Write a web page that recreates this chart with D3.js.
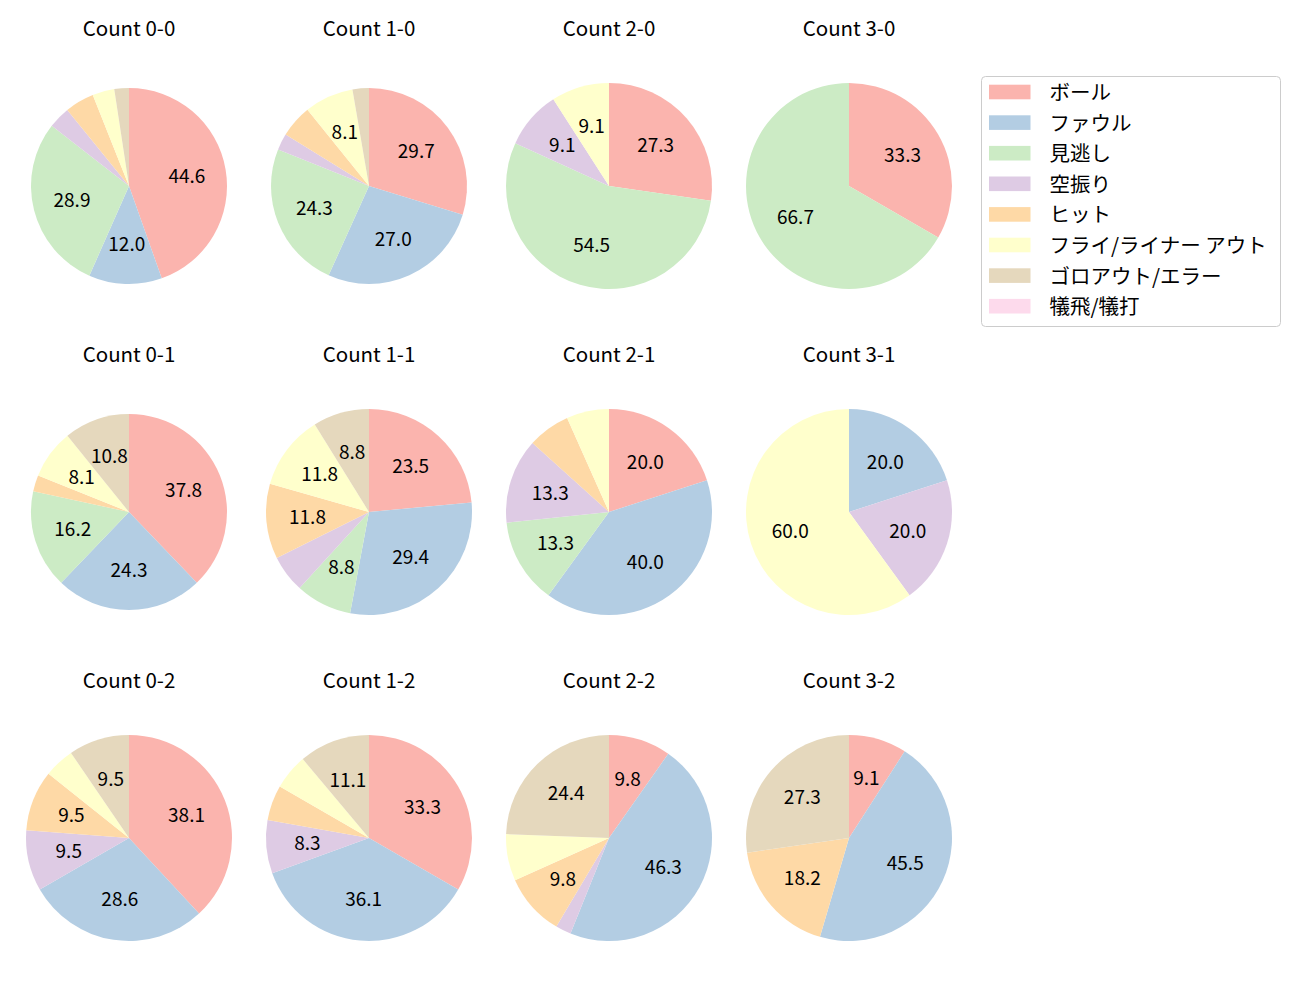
<!DOCTYPE html>
<html>
<head>
<meta charset="utf-8">
<script src="https://cdn.jsdelivr.net/npm/d3@7"></script>
<style>
  body { margin: 0; background: #fff; }
  svg text { font-family: "Noto Sans CJK JP", "Noto Sans", sans-serif; fill: #000; }
</style>
</head>
<body>
<svg id="chart" width="1300" height="1000"></svg>
<script>
'use strict';

// ========== data

const categories = ['ボール', 'ファウル', '見逃し', '空振り', 'ヒット',
  'フライ/ライナー アウト', 'ゴロアウト/エラー', '犠飛/犠打'];
const counts = ['0-0', '1-0', '2-0', '3-0', '0-1', '1-1', '2-1', '3-1', '0-2', '1-2', '2-2', '3-2'];
const colors = ['#fbb4ae', '#b3cde3', '#ccebc5', '#decbe4', '#fed9a6', '#ffffcc', '#e5d8bd', '#fddaec'];

// pitches per category, same order as categories
const count00 = [37, 10, 24, 3, 4, 3, 2, 0];
const count10 = [11, 10, 9, 1, 2, 3, 1, 0];
const count20 = [3, 0, 6, 1, 0, 1, 0, 0];
const count30 = [1, 0, 2, 0, 0, 0, 0, 0];
const count01 = [14, 9, 6, 0, 1, 3, 4, 0];
const count11 = [8, 10, 3, 2, 4, 4, 3, 0];
const count21 = [3, 6, 2, 2, 1, 1, 0, 0];
const count31 = [0, 1, 0, 1, 0, 3, 0, 0];
const count02 = [8, 6, 0, 2, 2, 1, 2, 0];
const count12 = [12, 13, 0, 3, 2, 2, 4, 0];
const count22 = [4, 19, 0, 1, 4, 3, 10, 0];
const count32 = [1, 5, 0, 0, 2, 0, 3, 0];

const values = [count00, count10, count20, count30, count01, count11,
  count21, count31, count02, count12, count22, count32];

// ========== layout

const colX = [129, 369, 609, 849];
const rowY = [186, 512, 838];
const smaller = ['0-0', '1-0', '0-1'];   // these come out a bit smaller in the original

const svg = d3.select('#chart');
const color = d3.scaleOrdinal().domain(categories).range(colors);

const pie = d3.pie()
  .sort(null)
  .value(function(d) { return d.v; });

counts.forEach(function(c, i) {
  const cx = colX[i % 4];
  const cy = rowY[Math.floor(i / 4)];
  const r = smaller.includes(c) ? 98 : 103;
  const data = categories.map(function(k, j) { return {k: k, v: values[i][j]}; });
  const total = d3.sum(data, function(d) { return d.v; });
  const arc = d3.arc().innerRadius(0).outerRadius(r);
  const lab = d3.arc().innerRadius(r * 0.6).outerRadius(r * 0.6);

  const g = svg.append('g').attr('transform', 'translate(' + cx + ',' + cy + ')');
  const arcs = pie(data).filter(function(d) { return d.data.v > 0; });

  g.selectAll('path')
    .data(arcs)
    .enter().append('path')
    .attr('d', arc)
    .attr('fill', function(d) { return color(d.data.k); });

  g.selectAll('text.pct')
    .data(arcs.filter(function(d) { return d.data.v / total * 100 > 7.5; }))
    .enter().append('text')
    .attr('class', 'pct')
    .attr('transform', function(d) { return 'translate(' + lab.centroid(d) + ')'; })
    .attr('text-anchor', 'middle')
    .attr('dominant-baseline', 'central')
    .attr('dy', '-0.1em')
    .style('font-size', '19px')
    .text(function(d) { return (d.data.v / total * 100).toFixed(1); });

  svg.append('text')
    .attr('x', cx)
    .attr('y', cy - 150)
    .attr('text-anchor', 'middle')
    .style('font-size', '20.5px')
    .text('Count ' + c);
});

// ========== legend

const leg = svg.append('g').attr('transform', 'translate(981.5,76.5)');
leg.append('rect')
  .attr('width', 299)
  .attr('height', 250)
  .attr('rx', 4)
  .attr('fill', '#fff')
  .attr('stroke', '#cccccc');

const item = leg.selectAll('g.item')
  .data(categories)
  .enter().append('g')
  .attr('class', 'item')
  .attr('transform', function(d, i) { return 'translate(0,' + (15.5 + i * 30.6) + ')'; });

item.append('rect')
  .attr('x', 7.5)
  .attr('y', -7.3)
  .attr('width', 41.5)
  .attr('height', 14.6)
  .attr('fill', function(d) { return color(d); });

item.append('text')
  .attr('x', 68)
  .attr('dominant-baseline', 'central')
  .attr('dy', '-0.05em')
  .style('font-size', '20.5px')
  .text(function(d) { return d; });
</script>
</body>
</html>
